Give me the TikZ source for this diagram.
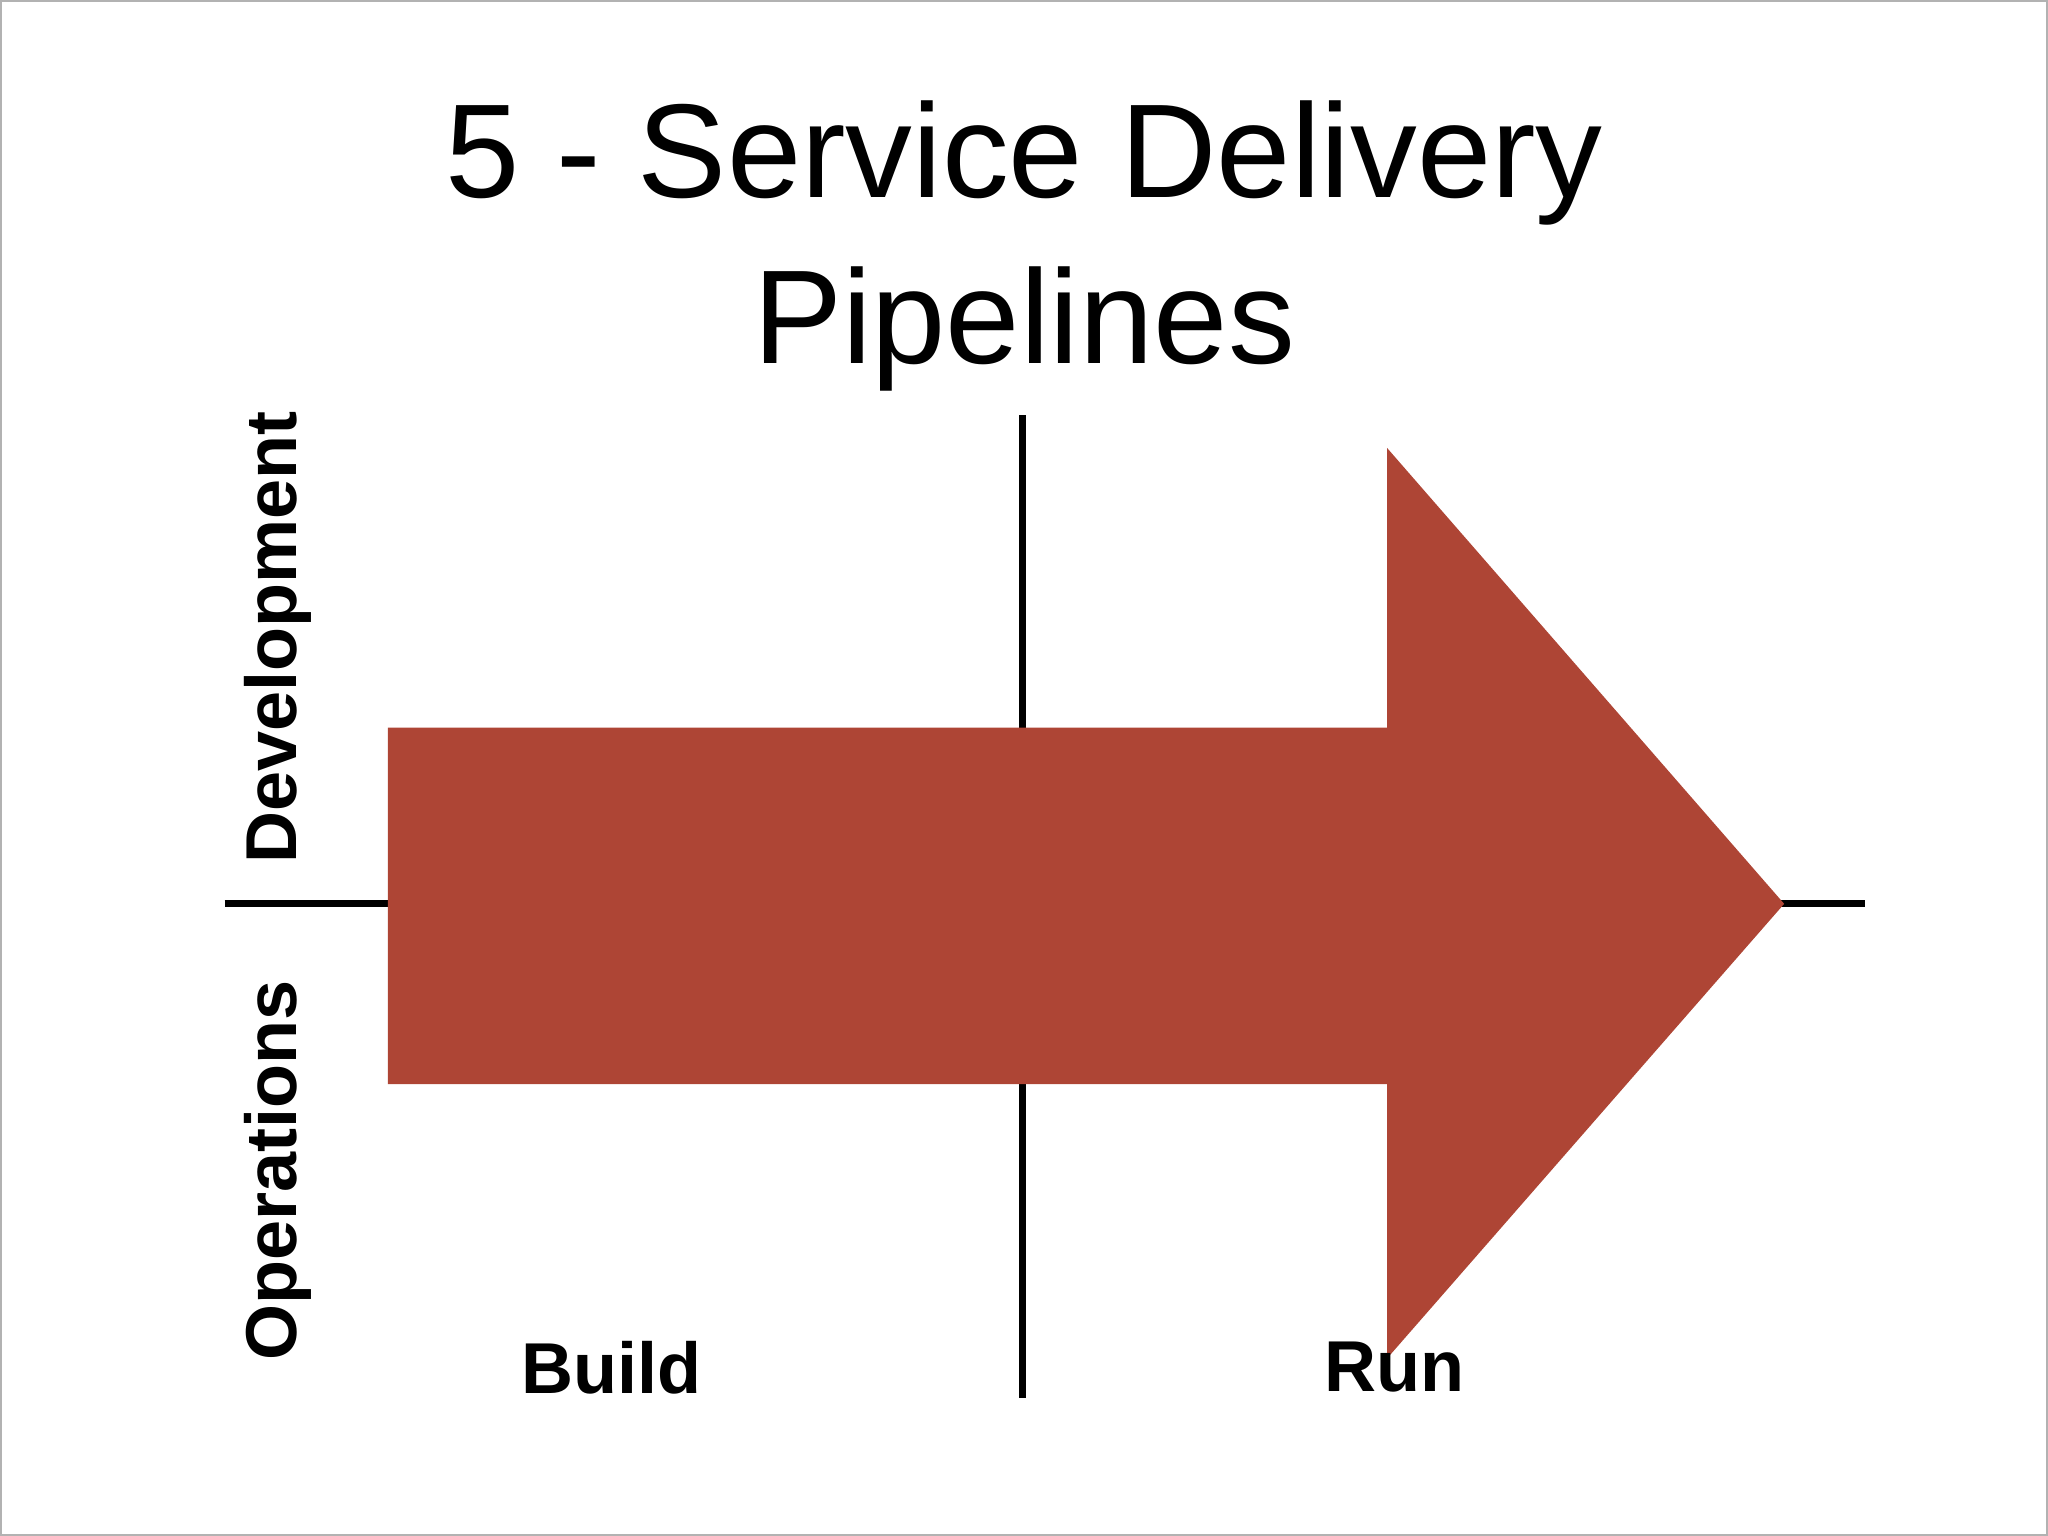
\documentclass[tikz,border=0pt]{standalone}
\usepackage{fontspec}
\setmainfont{Liberation Sans}
\definecolor{arrowred}{HTML}{AE4535}
\begin{document}
\begin{tikzpicture}[x=0.013061cm,y=-0.013061cm,
  axis/.style={line width=2pt,black},
  lab/.style={font=\fontsize{20.5}{24}\selectfont\bfseries},
  ttl/.style={font=\fontsize{38}{48}\selectfont,align=center}]
\useasboundingbox (0,0) rectangle (1568,1176);
\draw[gray!60,line width=0.6pt] (0.5,0.5) rectangle (1567.5,1175.5);
\node[ttl] (t1) at (784,125) {5 - Service Delivery};
\node[ttl] (t2) at (784,252) {Pipelines};
\coordinate (vt) at (783,318); \coordinate (vb) at (783,1070);
\coordinate (hl) at (172,692); \coordinate (hr) at (1428,692);
\draw[axis] (vt) -- (vb);
\draw[axis] (hl) -- (hr);
\fill[arrowred] (297,557) -- (1062,557) -- (1062,343) -- (1366,692) -- (1062,1040) -- (1062,830) -- (297,830) -- cycle;
\node[lab,rotate=90] (dev) at (213,488) {Development};
\node[lab,rotate=90] (ops) at (213,896) {Operations};
\node[lab] (build) at (468,1047) {Build};
\node[lab] (run) at (1068,1047) {Run};
\end{tikzpicture}
\end{document}
